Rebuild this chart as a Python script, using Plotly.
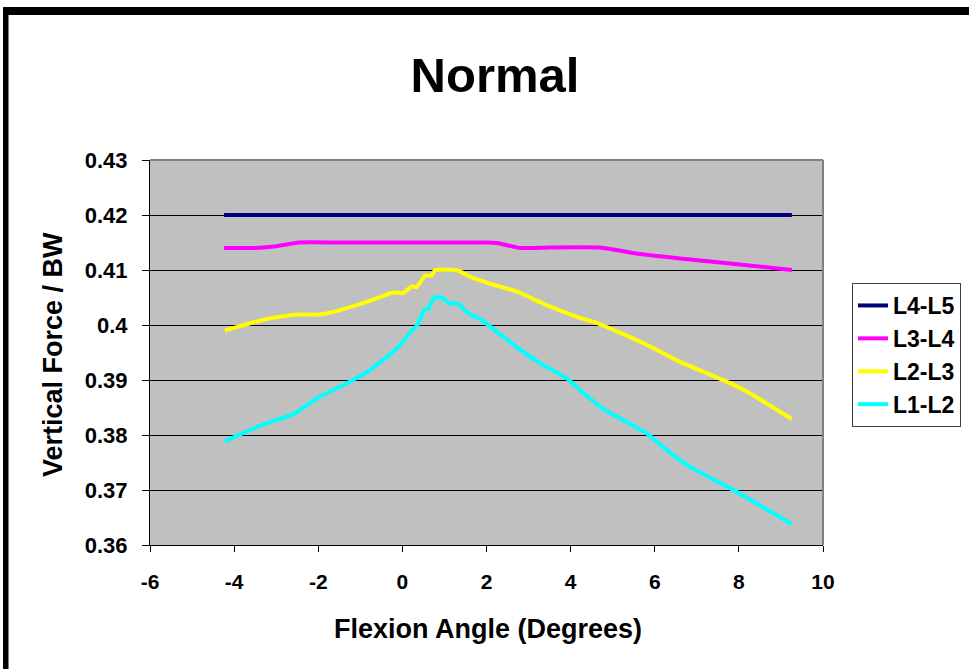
import plotly.graph_objects as go

# ---- data ----
series_names = ["L4-L5", "L3-L4", "L2-L3", "L1-L2"]
series_colors = ["#000080", "#FF00FF", "#FFFF00", "#00FFFF"]

x_l45 = [-4.24, 9.26]
y_l45 = [0.42, 0.42]

x_l34 = [-4.24, -3.5, -3.0, -2.47, -1.5, 0.0, 1.0, 2.0, 2.25, 2.8, 3.5, 4.7, 5.65, 6.6, 7.79, 9.26]
y_l34 = [0.4140, 0.4140, 0.4143, 0.4150, 0.4150, 0.4150, 0.4150, 0.4150, 0.4149, 0.4140, 0.4141, 0.4141, 0.4129, 0.4121, 0.4112, 0.4100]

x_l23 = [-4.22, -3.86, -3.23, -2.51, -1.96, -1.48, -0.85, -0.21, 0.02, 0.22, 0.34, 0.54, 0.70, 0.78,
         1.29, 1.61, 1.85, 2.08, 2.72, 3.43, 4.22, 4.62, 5.17, 5.89, 6.60, 7.71, 8.19, 9.26]
y_l23 = [0.3990, 0.3998, 0.4011, 0.4019, 0.4019, 0.4027, 0.4042, 0.4059, 0.4058, 0.4070, 0.4069, 0.4090, 0.4090, 0.4100,
         0.4100, 0.4088, 0.4081, 0.4075, 0.4061, 0.4036, 0.4013, 0.4004, 0.3986, 0.3961, 0.3933, 0.3897, 0.3879, 0.3829]

x_l12 = [-4.22, -3.86, -3.23, -2.59, -1.96, -1.32, -0.77, -0.29, 0.02, 0.22, 0.34, 0.54, 0.62, 0.75, 0.93,
         1.13, 1.33, 1.57, 1.85, 2.24, 2.80, 3.35, 3.91, 4.22, 4.78, 5.33, 5.81, 6.28, 6.84, 7.87, 9.26]
y_l12 = [0.3788, 0.3801, 0.3821, 0.3838, 0.3870, 0.3894, 0.3918, 0.3947, 0.3970, 0.3990, 0.3998, 0.4029, 0.4029, 0.4050, 0.4050,
         0.4039, 0.4039, 0.4021, 0.4011, 0.3988, 0.3955, 0.3927, 0.3903, 0.3882, 0.3847, 0.3824, 0.3803, 0.3773, 0.3742, 0.3700, 0.3638]

x_tickvals = [-6, -4, -2, 0, 2, 4, 6, 8, 10]
x_ticktext = ["-6", "-4", "-2", "0", "2", "4", "6", "8", "10"]
y_tickvals = [0.36, 0.37, 0.38, 0.39, 0.40, 0.41, 0.42, 0.43]
y_ticktext = ["0.36", "0.37", "0.38", "0.39", "0.4", "0.41", "0.42", "0.43"]

FONT = "Liberation Sans, Arial, sans-serif"

fig = go.Figure()
for name, color, xs, ys in zip(series_names, series_colors,
                               [x_l45, x_l34, x_l23, x_l12],
                               [y_l45, y_l34, y_l23, y_l12]):
    fig.add_trace(go.Scatter(x=xs, y=ys, mode="lines", name=name,
                             line=dict(color=color, width=4, shape="spline", smoothing=0.4),
                             legendgroup=name))

W, H = 969, 669
L, R, T, B = 150, 146, 160, 124
pw, ph = W - L - R, H - T - B

def px2paper_x(px):
    return (px - L) / pw

def px2paper_y(py):
    return (H - B - py) / ph

fig.update_layout(
    width=W, height=H,
    margin=dict(l=L, r=R, t=T, b=B, pad=0, autoexpand=False),
    paper_bgcolor="white",
    plot_bgcolor="#C0C0C0",
    font=dict(family=FONT, color="black"),
    title=dict(text="<b>Normal</b>", x=495 / W, xanchor="center", y=1 - 75 / H, yanchor="middle",
               font=dict(size=49, family=FONT, color="black")),
    showlegend=True,
    legend=dict(x=px2paper_x(852), y=px2paper_y(283), xanchor="left", yanchor="top",
                bgcolor="white", bordercolor="#404040", borderwidth=1,
                font=dict(size=23, family=FONT, color="black", weight="bold"),
                traceorder="grouped", tracegroupgap=0),
    xaxis=dict(range=[-6, 10], tickvals=x_tickvals, ticktext=x_ticktext,
               showgrid=False, zeroline=False,
               showline=True, linecolor="black", linewidth=1,
               ticks="outside", ticklen=6, tickcolor="black",
               tickfont=dict(size=21, family=FONT, color="black", weight="bold"),
               ticklabelstandoff=12),
    yaxis=dict(range=[0.36, 0.43], tickvals=y_tickvals, ticktext=y_ticktext,
               showgrid=True, gridcolor="black", gridwidth=1, zeroline=False,
               showline=True, linecolor="black", linewidth=1,
               ticks="outside", ticklen=7, tickcolor="black",
               tickfont=dict(size=22, family=FONT, color="black", weight="bold"),
               ticklabelstandoff=10),
    annotations=[
        dict(text="<b>Flexion Angle (Degrees)</b>", xref="paper", yref="paper",
             x=px2paper_x(488), y=px2paper_y(629), xanchor="center", yanchor="middle",
             showarrow=False, font=dict(size=27, family=FONT, color="black")),
        dict(text="<b>Vertical Force / BW</b>", xref="paper", yref="paper",
             x=px2paper_x(53), y=px2paper_y(355), xanchor="center", yanchor="middle",
             textangle=-90, showarrow=False, font=dict(size=27, family=FONT, color="black")),
    ],
    shapes=[
        # plot-area top and right border (gray)
        dict(type="line", xref="paper", yref="paper", x0=0, x1=1, y0=1, y1=1,
             line=dict(color="#808080", width=2), layer="above"),
        dict(type="line", xref="paper", yref="paper", x0=1, x1=1, y0=0, y1=1,
             line=dict(color="#808080", width=2), layer="above"),
        # outer black frame (top and left)
        dict(type="rect", xref="paper", yref="paper",
             x0=px2paper_x(3), x1=px2paper_x(980), y0=px2paper_y(15), y1=px2paper_y(7),
             fillcolor="black", line=dict(width=0)),
        dict(type="rect", xref="paper", yref="paper",
             x0=px2paper_x(3), x1=px2paper_x(8.5), y0=px2paper_y(680), y1=px2paper_y(7),
             fillcolor="black", line=dict(width=0)),
    ],
)

fig.write_html("out.html")
